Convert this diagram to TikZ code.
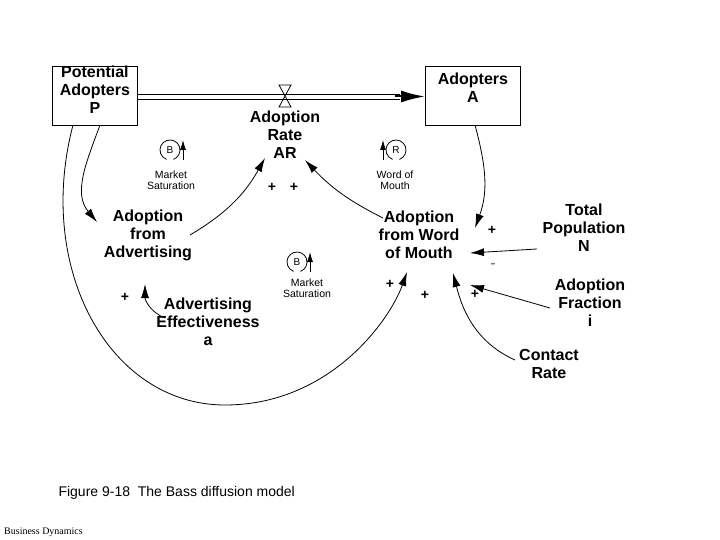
\documentclass[tikz,border=0pt]{standalone}
\usepackage{fontspec}
\setmainfont{Liberation Sans}
\usetikzlibrary{arrows.meta}
\tikzset{
  stock/.style={rectangle, draw=black, thick},
  var/.style={font=\bfseries\fontsize{16}{18}\selectfont, align=center, inner sep=1pt},
  small/.style={font=\fontsize{10.5}{10.5}\selectfont, align=center, inner sep=0pt},
  sign/.style={font=\bfseries\fontsize{14}{14}\selectfont, inner sep=0pt},
  arrow/.style={thick, -{Latex[length=14pt,width=8pt]}},
  looparrow/.style={thick, -{Latex[length=10pt,width=6pt]}},
}
\newcommand{\loopmark}[2]{% position, letter
  \draw[thick] (#1) ++(-70:10pt) arc[start angle=-70, end angle=250, radius=10pt];
  \node[font=\fontsize{10}{10}\selectfont] at (#1) {#2};
}
\begin{document}
\begin{tikzpicture}[x=1pt, y=-1pt]
\useasboundingbox (0,0) rectangle (720,540);

% stocks and flow
\node[stock, minimum width=85pt, minimum height=59pt, anchor=north west] (P) at (52,66) {};
\node[var, anchor=north] at ([yshift=1pt]P.north) {Potential\\Adopters\\P};
\node[stock, minimum width=95pt, minimum height=59pt, anchor=north west] (A) at (425,66) {};
\node[var, anchor=north] at ([yshift=-6pt]A.north) {Adopters\\A};
\draw[thick] (137,94) -- (400,94);
\draw[thick] (137,99) -- (400,99);
\draw[line width=2pt, -{Latex[length=24pt,width=12pt]}] (395,96.5) -- (425,96.5);
\draw[thick] (279,85) -- (291,85) -- (279,107) -- (291,107) -- cycle;
\node[var] (AR) at (285,135) {Adoption\\Rate\\AR};

% auxiliaries
\node[var] (AfA) at (148,235) {Adoption\\from\\Advertising};
\node[var] (AfW) at (419,235) {Adoption\\from Word\\of Mouth};
\node[var] (N) at (584,228) {Total\\Population\\N};
\node[var] (i) at (590,303) {Adoption\\Fraction\\i};
\node[var] (c) at (549,364) {Contact\\Rate};
\node[var] (a) at (208,322) {Advertising\\Effectiveness\\a};

% links
\draw[arrow] (190,235) to[bend right=15] (265,158);
\draw[arrow] (383,218) to[bend left=10] (305,160);
\draw[arrow] (100,125) to[out=250, in=130] (97,222);
\draw[arrow] (475,125) to[out=-75, in=70] (475,228);
\draw[arrow] (73,125) .. controls (35,270) and (110,405) .. (225,405) .. controls (330,405) and (390,320) .. (407,272);
\draw[arrow] (537,249) -- (470,253);
\draw[arrow] (550,308) -- (470,285);
\draw[arrow] (515,360) .. controls (470,340) and (460,300) .. (453,273);
\draw[arrow] (165,318) .. controls (150,312) and (145,300) .. (145,284);

% polarities
\node[sign] at (272,187) {+};
\node[sign] at (294,187) {+};
\node[sign] at (492,230) {+};
\node[sign] at (493,265) {\fontsize{8}{8}\selectfont --};
\node[sign] at (390,284) {+};
\node[sign] at (425,295) {+};
\node[sign] at (475,294) {+};
\node[sign] at (125,297) {+};

% loops
\loopmark{170,150}{B}
\draw[looparrow] (183,160) -- (183,140);
\node[small] at (171,180) {Market\\Saturation};
\loopmark{396,150}{R}
\draw[looparrow] (383,160) -- (383,140);
\node[small] at (395,180) {Word of\\Mouth};
\loopmark{297,262}{B}
\draw[looparrow] (310,272) -- (310,252);
\node[small] at (307,288) {Market\\Saturation};

% caption
\node[font=\fontsize{14}{14}\selectfont, anchor=west] (cap) at (55,493) {Figure 9-18\ \ The Bass diffusion model};
\node[font=\itshape\fontsize{10}{10}\selectfont, anchor=west, inner sep=0pt] (bd) at (4,532) {\setmainfont{Liberation Serif}Business Dynamics};
\end{tikzpicture}
\end{document}
